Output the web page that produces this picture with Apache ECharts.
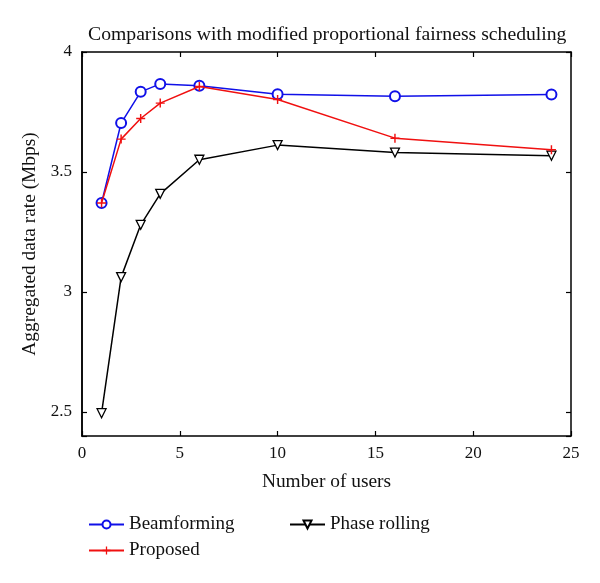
<!DOCTYPE html>
<html><head><meta charset="utf-8">
<script src="https://cdn.jsdelivr.net/npm/echarts@6/dist/echarts.min.js"></script>
<style>html,body{margin:0;padding:0;background:#fff}#c{width:600px;height:583px}</style>
</head><body><div id="c"></div>
<script>
const users = [1, 2, 3, 4, 6, 10, 16, 24];
const beamforming = [3.371, 3.704, 3.834, 3.867, 3.859, 3.824, 3.816, 3.823];
const proposed = [3.371, 3.637, 3.723, 3.787, 3.856, 3.802, 3.641, 3.593];
const phaseRolling = [2.495, 3.062, 3.280, 3.409, 3.551, 3.612, 3.581, 3.568];
const xTicks = [0, 5, 10, 15, 20, 25];
const yTicks = [2.5, 3, 3.5, 4];
const yMin = 2.4, yMax = 4;

const FONT = 'Liberation Serif';
const pairs = a => users.map((u, i) => [u, a[i]]);
const chart = echarts.init(document.getElementById('c'));
const axLine = {show: true, onZero: false, lineStyle: {color: '#000', width: 1.5}};
const tick = {show: true, inside: true, length: 5, lineStyle: {color: '#000', width: 1.2}};
// helper tick axis: measured downward from the top value so that ticks land on yTicks
const helperY = pos => ({type: 'value', position: pos, inverse: true, min: 0, max: +(yMax - yMin).toFixed(2), interval: 0.5,
  axisLine: axLine, axisTick: tick, axisLabel: {show: false}, splitLine: {show: false}});
const legText = {fontFamily: FONT, fontSize: 19, color: '#111'};
chart.setOption({
  animation: false,
  backgroundColor: '#fff',
  title: {text: 'Comparisons with modified proportional fairness scheduling', left: 83, top: 20,
    textStyle: {fontFamily: FONT, fontSize: 19.7, fontWeight: 'normal', color: '#111'}},
  grid: {left: 82, right: 29, top: 52, bottom: 147},
  xAxis: [
    {type: 'value', min: 0, max: 25, interval: 5, axisLine: axLine, axisTick: tick, splitLine: {show: false},
     name: 'Number of users', nameLocation: 'middle', nameGap: 36,
     nameTextStyle: {fontFamily: FONT, fontSize: 19.4, color: '#111'},
     axisLabel: {fontFamily: FONT, fontSize: 17, color: '#111', margin: 9, customValues: xTicks}},
    {type: 'value', position: 'top', min: 0, max: 25, interval: 5, axisLine: axLine, axisTick: tick,
     axisLabel: {show: false}, splitLine: {show: false}}
  ],
  yAxis: [
    {type: 'value', position: 'left', min: yMin, max: yMax, axisLine: axLine, splitLine: {show: false}, axisTick: {show: false},
     name: 'Aggregated data rate (Mbps)', nameLocation: 'middle', nameGap: 34,
     nameTextStyle: {fontFamily: FONT, fontSize: 19.4, color: '#111'},
     axisLabel: {fontFamily: FONT, fontSize: 17, color: '#111', margin: 10, customValues: yTicks,
       formatter: v => String(+v.toFixed(1))}},
    helperY('left'),
    helperY('right')
  ],
  legend: [
    {data: ['Beamforming'], left: 83, top: 510, itemWidth: 35, itemHeight: 10, itemGap: 10, textStyle: legText},
    {data: ['Proposed'], left: 83, top: 536, itemWidth: 35, itemHeight: 10, textStyle: legText},
    {data: ['Phase rolling'], left: 284, top: 510, itemWidth: 35, itemHeight: 10, textStyle: legText}
  ],
  series: [
    {name: 'Beamforming', type: 'line', data: pairs(beamforming), symbol: 'emptyCircle', symbolSize: 10,
     itemStyle: {color: '#1010e8', borderWidth: 1.3}, lineStyle: {color: '#1010e8', width: 1.5}, z: 3},
    {name: 'Proposed', type: 'line', data: pairs(proposed),
     symbol: 'path://M4.2,0H5.8V4.2H10V5.8H5.8V10H4.2V5.8H0V4.2H4.2Z', symbolSize: 9,
     itemStyle: {color: '#f01010'}, lineStyle: {color: '#f01010', width: 1.5}, z: 4},
    {name: 'Phase rolling', type: 'line', data: pairs(phaseRolling), symbol: 'triangle', symbolRotate: 180, symbolSize: 9,
     itemStyle: {color: '#fff', borderColor: '#000', borderWidth: 1.3}, lineStyle: {color: '#000', width: 1.5}, z: 2}
  ]
});
</script></body></html>
